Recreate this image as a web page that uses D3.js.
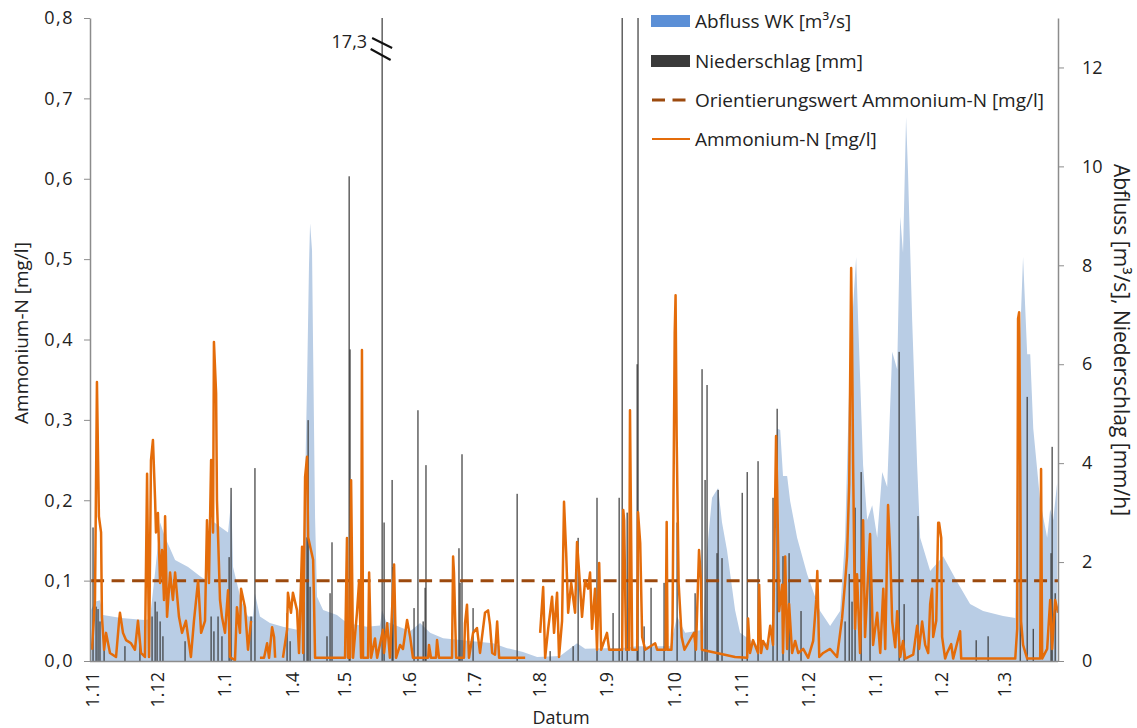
<!DOCTYPE html>
<html><head><meta charset="utf-8">
<script src="https://cdn.jsdelivr.net/npm/d3@7"></script>
<style>body{margin:0;background:#fff}svg{display:block}</style>
</head><body><svg id="c" width="1137" height="728"></svg>
<script>
// x positions are "record days" (the series has gaps, so the axis is a sample index)
const tickDays = [1, 31, 62, 93, 117, 147, 177, 207, 238, 269, 300, 331, 362, 392, 421];
const tickLabels = ["1.11","1.12","1.1","1.4","1.5","1.6","1.7","1.8","1.9","1.10","1.11","1.12","1.1","1.2","1.3"];
const leftTicks = [0,0.1,0.2,0.3,0.4,0.5,0.6,0.7,0.8];
const rightTicks = [0,2,4,6,8,10,12];
const orientierungswert = 0.1;
const breakValue = 17.3;

// Abfluss WK [m3/s]  [day, value]
const abfluss = [[0.5,1.03],[2.3,1.2],[4.6,1.23],[6.0,0.93],[14.3,0.87],[25.3,0.83],[27.6,0.85],[30,1.8],[32.3,2.8],[34.6,2.5],[39.2,2.04],[45.2,1.9],[51.2,1.7],[53.5,1.64],[54.8,2.3],[55.8,2.85],[60.4,2.7],[63.6,2.6],[64.5,3.0],[65,3.5],[65.9,1.9],[69.6,1.23],[72.8,0.9],[75.1,0.9],[76,1.37],[78.3,0.9],[82.9,0.77],[88.9,0.69],[95.4,0.63],[96.8,1.4],[98.2,2.2],[99.1,3.6],[100,5.6],[100.9,8.0],[101.4,8.85],[102.3,8.3],[102.8,6.3],[103.7,2.9],[104.6,1.3],[107.4,1.03],[113.8,0.93],[118.4,0.77],[127.6,0.69],[133.6,0.72],[134.6,1.03],[136.4,0.8],[138.2,0.77],[147.5,0.6],[152.1,0.77],[156.7,0.57],[162.7,0.46],[185.7,0.36],[192.2,0.26],[199.5,0.18],[206,0.08],[216.6,0.1],[224.4,0.36],[228.1,0.25],[236.4,0.26],[244.2,0.26],[252.1,0.3],[262.7,0.3],[267.3,0.3],[270.5,0.9],[274.2,0.57],[278.8,0.6],[282.5,0.63],[284.3,2.24],[286.6,3.3],[289.4,3.5],[291.2,2.8],[293.5,2.24],[297.2,1.03],[299.5,0.57],[304.1,0.43],[308.8,0.28],[313.4,0.43],[315.7,1.5],[316.6,4.7],[318,4.67],[319.3,3.74],[321.2,3.74],[322.6,3.23],[325.8,2.49],[330.4,1.76],[336.4,1.01],[341,0.71],[345.6,1.01],[347.9,2.49],[350.2,6.2],[353,8.17],[353.9,6.9],[356.2,3.96],[358.1,2.85],[360.4,3.15],[362.7,2.49],[365,3.82],[367.3,3.52],[369.6,6.25],[371.9,5.9],[373.3,8.98],[374.6,8.25],[376,11.0],[376.9,9.87],[378.8,6.9],[381.1,3.96],[382.5,2.49],[387.1,1.82],[393.1,2.12],[399.5,1.6],[405.5,1.15],[411.5,1.01],[420.7,0.91],[426.3,0.87],[427.6,5.44],[429.9,8.17],[431.8,6.2],[433.2,6.2],[434.6,4.7],[437.8,3.23],[441,2.49],[442.4,3.07],[443.8,2.85],[445.6,3.6]];

// Niederschlag [mm/h]  [day, value]
const niederschlag = [[1.4,2.7],[2.8,1.1],[3.7,1.05],[4.6,0.8],[6.5,0.5],[16.1,0.3],[23,0.4],[28.6,0.9],[30,1.2],[30.9,1.0],[32.3,0.8],[33.6,0.5],[43.8,0.4],[55.8,0.9],[57.1,0.6],[59,0.9],[60.8,0.5],[64.1,2.1],[65,3.5],[74.2,0.9],[76,3.9],[90.8,0.97],[92.2,0.4],[98.6,1.2],[100,2.5],[100.5,4.87],[101.4,1.5],[109.2,0.5],[110.6,1.37],[111.5,2.4],[119.4,9.8],[119.8,6.3],[134.6,17.3],[135.5,2.8],[139.2,3.66],[139.6,1.9],[149.3,1.07],[151.1,5.07],[153.5,0.8],[154.4,1.48],[154.8,3.96],[170,2.28],[170.5,1.58],[171.4,4.18],[176.5,1.07],[196.8,3.38],[212,0.2],[222.6,0.3],[224.9,2.49],[233.6,3.3],[241,0.97],[243.8,3.3],[245.2,14.5],[247.5,3.0],[252.1,6.0],[252.5,15],[255.3,0.7],[258.5,1.48],[264.5,1.58],[270.5,2.8],[278.8,1.37],[282,5.9],[283.4,3.66],[284.3,5.58],[288.9,2.18],[289.4,3.46],[291.2,2.08],[300.5,3.4],[302.8,3.82],[307.8,4.04],[314.7,3.3],[316.6,5.1],[319.3,2.12],[322.1,2.18],[327.6,1.01],[347.9,0.8],[349.8,1.76],[351.1,1.2],[352.5,3.1],[355.3,3.82],[359.4,2.57],[372.8,6.25],[375.1,1.15],[381.5,2.93],[408.3,0.42],[413.8,0.5],[428.6,3.88],[431.8,5.34],[434.6,0.65],[442.8,2.18],[443.3,4.33],[444.7,1.37]];

// Ammonium-N [mg/l]  [day, value]  (null = gap)
const ammonium = [[0.9,0.014],[2.3,0.076],[3.2,0.347],[4.1,0.18],[5.1,0.16],[5.5,0.055],[6.5,0.014],[7.4,0.035],[9.2,0.01],[12,0.005],[13.4,0.05],[13.8,0.06],[15.2,0.035],[16.6,0.026],[18.9,0.022],[20.7,0.014],[22.1,0.05],[23.5,0.01],[25.3,0.005],[26.3,0.233],[27.2,0.005],[28.1,0.25],[29,0.275],[30,0.2],[30.4,0.16],[31.3,0.184],[32.3,0.097],[33.2,0.138],[34.1,0.076],[34.6,0.18],[35.5,0.055],[36.9,0.11],[38.2,0.076],[39.2,0.11],[41,0.055],[42.4,0.035],[44.2,0.05],[46.5,0.005],[47.9,0.05],[49.8,0.1],[51.2,0.035],[53,0.05],[53.9,0.175],[54.8,0.097],[55.8,0.25],[56.7,0.16],[57.1,0.397],[58.1,0.333],[58.5,0.2],[59.9,0.076],[60.8,0.055],[62.2,0.035],[63.6,0.088],[64.5,0.005],[66.8,0.001],[67.7,0.067],[69.1,0.035],[69.6,0.09],[71.4,0.067],[72.8,0.014],[74.2,0.05],[74.8,null],
[78.3,0.004],[80.2,0.004],[81.6,0.022],[82.5,0.004],[83.9,0.042],[84.8,0.03],[85.3,0.004],[86,null],
[88.9,0.004],[90.8,0.039],[91.2,0.085],[92.6,0.06],[93.5,0.085],[95.4,0.063],[96.3,0.01],[97.7,0.142],[98.2,0.01],[99.1,0.229],[100,0.254],[100.5,0.154],[101.8,0.138],[102.8,0.126],[103.2,0.076],[103.7,0.004],[117.5,0.004],[118.4,0.153],[118.9,0.004],[119.8,0.004],[120.3,0.225],[121.2,0.004],[123,0.06],[124,0.1],[124.9,0.004],[125.3,0.387],[125.8,0.004],[128.1,0.004],[128.6,0.11],[129.5,0.004],[131.3,0.028],[132.3,0.004],[135,0.039],[135.5,0.01],[136.9,0.047],[138.2,0.004],[140.1,0.12],[141,0.004],[142.9,0.02],[144.2,0.015],[146.1,0.051],[147.5,0.03],[148.8,0.004],[155.8,0.004],[156.2,0.02],[157.1,0.004],[159.4,0.004],[159.9,0.026],[160.8,0.004],[166.8,0.004],[167.3,0.13],[167.7,0.11],[168.7,0.004],[172.3,0.004],[172.8,0.047],[173.7,0.07],[174.6,0.004],[176.5,0.035],[178.3,0.041],[179.7,0.01],[182,0.06],[183.4,0.063],[184.3,0.045],[185.3,0.01],[186.6,0.008],[187.6,0.049],[188.5,0.004],[200.5,0.004],[201,null],
[207.4,0.035],[208.8,0.092],[209.7,0.004],[211.1,0.04],[212.9,0.08],[213.8,0.035],[215.2,0.085],[216.1,0.005],[217.5,0.05],[218.4,0.198],[219.4,0.134],[220.3,0.06],[221.7,0.097],[223.5,0.06],[224.4,0.148],[225.3,0.113],[226.7,0.055],[228.1,0.1],[229.5,0.09],[230.4,0.11],[231.3,0.04],[232.7,0.09],[233.6,0.014],[234.6,0.122],[235.5,0.014],[238.2,0.035],[239.2,0.014],[245.2,0.014],[245.7,0.188],[246.1,0.175],[247,0.014],[248.4,0.014],[248.8,0.312],[249.8,0.014],[252.1,0.014],[252.5,0.185],[253.5,0.147],[254.4,0.03],[255.8,0.014],[260.4,0.022],[261.3,0.014],[265.2,0.014],[265.7,0.173],[266.1,0.014],[267.9,0.014],[268.4,0.047],[269.4,0.408],[269.8,0.455],[270.3,0.279],[271.2,0.097],[272.6,0.03],[273.9,0.014],[278.3,0.035],[279.2,0.014],[280.6,0.138],[281.5,0.1],[281.9,0.014],[297.2,0.005],[302.8,0.004],[303.2,0.053],[304.1,0.01],[305.5,0.026],[307.8,0.01],[308.3,0.095],[309.2,0.01],[310.1,0.025],[312,0.015],[313.4,0.044],[314.7,0.02],[316.1,0.28],[316.6,0.216],[317.5,0.062],[318.9,0.095],[319.3,0.01],[320.3,0.13],[321.2,0.015],[322.1,0.071],[323.5,0.01],[324.9,0.025],[326.3,0.01],[328.6,0.015],[330.9,0.004],[333.2,0.025],[334.6,0.076],[335.1,0.112],[336,0.005],[337.8,0.01],[341,0.015],[344.2,0.005],[346.5,0.053],[347.9,0.098],[348.8,0.13],[349.8,0.221],[350.7,0.489],[351.1,0.403],[351.6,0.244],[352.5,0.04],[353.4,0.108],[354.8,0.01],[356.2,0.175],[357.1,0.03],[358.1,0.085],[359.4,0.158],[360.8,0.02],[362.7,0.06],[364.1,0.01],[365.5,0.09],[366.4,0.015],[367.7,0.194],[368.7,0.134],[369.6,0.049],[371,0.017],[371.9,0.062],[373.3,0.005],[374.6,0.025],[375.6,0.003],[379.3,0.008],[381.1,0.044],[382,0.015],[383.4,0.049],[384.8,0.02],[386.2,0.01],[387.1,0.071],[388,0.09],[388.5,0.03],[389.9,0.05],[390.8,0.172],[391.2,0.172],[392.2,0.153],[392.6,0.03],[394,0.003],[394.9,0.01],[396.8,0.021],[397.7,0.003],[400.9,0.037],[401.4,0.003],[426.3,0.003],[427.2,0.04],[427.6,0.426],[428.1,0.434],[428.6,0.244],[429,0.049],[429.9,0.02],[431.8,0.003],[437.8,0.003],[438.2,0.239],[438.7,0.003],[441,0.015],[442.4,0.076],[443.3,0.015],[444.7,0.076],[446,0.06]];

const legendItems = ["Abfluss WK [m³/s]","Niederschlag [mm]","Orientierungswert Ammonium-N [mg/l]","Ammonium-N [mg/l]"];

const FONT = "'Open Sans', sans-serif";
const TXT = "#222";
const m = {l:90, r:1058, t:18, b:661};
const svg = d3.select("#c").style("font-family", FONT);

const x = d3.scaleLinear().domain([0,446]).range([m.l, m.r]);
const yL = d3.scaleLinear().domain([0,0.8]).range([m.b, m.t]);
const yR = d3.scaleLinear().domain([0,13]).range([m.b, m.t]);

svg.append("defs").append("clipPath").attr("id","plot")
  .append("rect").attr("x",m.l).attr("y",m.t).attr("width",m.r-m.l).attr("height",m.b-m.t);
const g = svg.append("g").attr("clip-path","url(#plot)");

// Abfluss area
g.append("path").datum(abfluss)
  .attr("d", d3.area().x(d=>x(d[0])).y0(yR(0)).y1(d=>yR(d[1])))
  .attr("fill","#B9CDE5");

// Niederschlag bars
g.selectAll("rect.n").data(niederschlag).join("rect").attr("class","n")
  .attr("x", d=>x(d[0])-0.6).attr("width",1.2)
  .attr("y", d=>yR(d[1])).attr("height", d=>yR(0)-yR(d[1]))
  .attr("fill","#3a3a3a");

// Orientierungswert
g.append("path").datum([[0.5,orientierungswert],[446,orientierungswert]])
  .attr("d", d3.line().x(d=>x(d[0])).y(d=>yL(d[1])))
  .attr("stroke","#9C4A0E").attr("stroke-width",3).attr("stroke-dasharray","13,7.5").attr("fill","none");

// Ammonium
g.append("path").datum(ammonium)
  .attr("d", d3.line().defined(d=>d[1]!=null).x(d=>x(d[0])).y(d=>yL(d[1])))
  .attr("stroke","#E46C0A").attr("stroke-width",2.5).attr("stroke-linejoin","round").attr("fill","none");

// break annotation on the tallest precipitation bar
const brk = niederschlag.find(d=>d[1]===breakValue);
const bx = x(brk[0]);
svg.append("text").attr("x", bx-15).attr("y", 48).attr("text-anchor","end")
  .attr("font-size",18).attr("fill",TXT).text(String(breakValue).replace(".",","));
[[38,48],[49,60]].forEach((yy,i)=>{
  svg.append("line").attr("x1",bx-10-i*1.5).attr("y1",yy[0]).attr("x2",bx+10-i*1.5).attr("y2",yy[1])
    .attr("stroke","#111").attr("stroke-width",2);
});

// Axes
const axisColor = "#8c8c8c";
const la = svg.append("g").attr("transform",`translate(${m.l},0)`)
  .call(d3.axisLeft(yL).tickValues(leftTicks).tickSize(6).tickSizeOuter(0).tickPadding(10)
    .tickFormat(d=>d.toFixed(1).replace(".",",")));
const ra = svg.append("g").attr("transform",`translate(${m.r},0)`)
  .call(d3.axisRight(yR).tickValues(rightTicks).tickSize(6).tickSizeOuter(0).tickPadding(18));
const ba = svg.append("g").attr("transform",`translate(0,${m.b})`)
  .call(d3.axisBottom(x).tickValues(tickDays).tickSize(0).tickSizeOuter(0)
    .tickFormat((d,i)=>tickLabels[i]));
ba.select(".domain").attr("d",`M${m.l},0.5H${m.r}`);
[la,ra,ba].forEach(a=>{
  a.select(".domain").attr("stroke",axisColor).attr("stroke-width",1.5);
  a.selectAll(".tick line").attr("stroke",axisColor);
  a.selectAll("text").attr("font-size",18).attr("font-family",FONT).attr("fill",TXT);
});
la.selectAll("text").attr("letter-spacing","1.5px");
ba.selectAll("text").attr("transform","rotate(-90)").attr("x",-11).attr("y",0)
  .attr("dy","0.35em").style("text-anchor","end");

// Axis titles
svg.append("text").attr("transform","translate(21,333) rotate(-90)").attr("text-anchor","middle")
  .attr("dy","0.35em").attr("font-size",19).attr("fill",TXT).text("Ammonium-N [mg/l]");
svg.append("text").attr("transform","translate(1121,340) rotate(90)").attr("text-anchor","middle")
  .attr("dy","0.35em").attr("font-size",21).attr("fill",TXT).text("Abfluss [m³/s], Niederschlag [mm/h]");
svg.append("text").attr("x",561).attr("y",718).attr("text-anchor","middle")
  .attr("dy","0.35em").attr("font-size",18).attr("fill",TXT).text("Datum");

// Legend
const lg = svg.append("g");
const rowY = [21,61,100,139];
lg.append("rect").attr("x",651).attr("y",rowY[0]-6).attr("width",39).attr("height",12).attr("fill","#5B8FD6");
lg.append("rect").attr("x",651).attr("y",rowY[1]-6).attr("width",39).attr("height",12).attr("fill","#3a3a3a");
lg.append("line").attr("x1",652).attr("x2",690).attr("y1",rowY[2]).attr("y2",rowY[2])
  .attr("stroke","#9C4A0E").attr("stroke-width",3).attr("stroke-dasharray","13,7.5");
lg.append("line").attr("x1",652).attr("x2",690).attr("y1",rowY[3]).attr("y2",rowY[3])
  .attr("stroke","#E46C0A").attr("stroke-width",2);
lg.selectAll("text").data(legendItems).join("text")
  .attr("x",695).attr("y",(d,i)=>rowY[i]).attr("dy","0.35em")
  .attr("font-size",19).attr("fill",TXT).text(d=>d);
</script></body></html>
